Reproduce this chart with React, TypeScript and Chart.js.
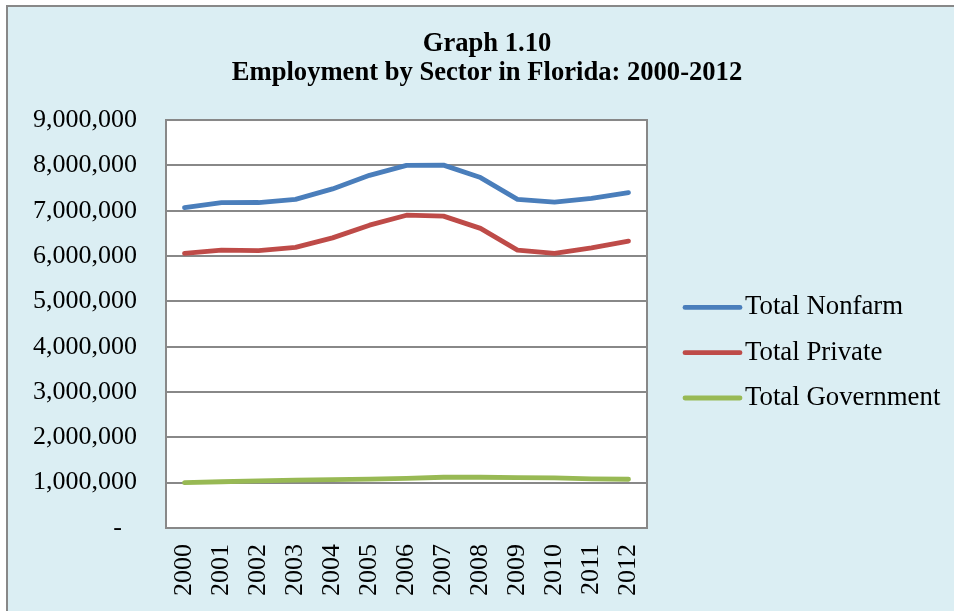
import React, { useEffect, useRef } from "react";
import { Chart, registerables } from "chart.js";

Chart.register(...registerables);

const years = ["2000", "2001", "2002", "2003", "2004", "2005", "2006", "2007", "2008", "2009", "2010", "2011", "2012"];
const totalNonfarm = [7066000, 7176000, 7180000, 7250000, 7480000, 7780000, 7998000, 8005000, 7730000, 7250000, 7190000, 7270000, 7400000];
const totalPrivate = [6060000, 6130000, 6120000, 6190000, 6400000, 6680000, 6900000, 6880000, 6610000, 6130000, 6060000, 6180000, 6330000];
const totalGovernment = [1000000, 1020000, 1040000, 1055000, 1065000, 1080000, 1095000, 1120000, 1120000, 1110000, 1105000, 1085000, 1075000];
const seriesNames = ["Total Nonfarm", "Total Private", "Total Government"];
const seriesColors = ["#4A7EBB", "#BE4B48", "#98B954"];
const titleLines = ["Graph 1.10", "Employment by Sector in Florida: 2000-2012"];

const FONT = "'Liberation Serif', 'Times New Roman', serif";

const plotBgPlugin = {
  id: "plotBg",
  beforeDraw(chart: any) {
    const { ctx, chartArea } = chart;
    ctx.save();
    ctx.fillStyle = "#FFFFFF";
    ctx.fillRect(chartArea.left, chartArea.top, chartArea.right - chartArea.left, chartArea.bottom - chartArea.top);
    ctx.restore();
  },
  beforeDatasetsDraw(chart: any) {
    const { ctx, chartArea } = chart;
    ctx.save();
    ctx.strokeStyle = "#888888";
    ctx.lineWidth = 2;
    ctx.strokeRect(chartArea.left, chartArea.top, chartArea.right - chartArea.left, chartArea.bottom - chartArea.top);
    ctx.restore();
  },
};

const sideLegendPlugin = {
  id: "sideLegend",
  afterDraw(chart: any) {
    const { ctx, chartArea } = chart;
    const mid = (chartArea.top + chartArea.bottom) / 2 + 28.7;
    const spacing = 45.3;
    const x0 = chartArea.right + 38;
    const lineLen = 55;
    ctx.save();
    chart.data.datasets.forEach((ds: any, i: number) => {
      const y = mid + (i - 1) * spacing;
      ctx.strokeStyle = ds.borderColor;
      ctx.lineWidth = 4.8;
      ctx.lineCap = "round";
      ctx.beginPath();
      ctx.moveTo(x0, y);
      ctx.lineTo(x0 + lineLen, y);
      ctx.stroke();
      ctx.fillStyle = "#000000";
      ctx.font = `26.8px ${FONT}`;
      ctx.textAlign = "left";
      ctx.textBaseline = "middle";
      ctx.fillText(ds.label, x0 + lineLen + 5, y);
    });
    ctx.restore();
  },
};

export default function App() {
  const canvasRef = useRef<HTMLCanvasElement | null>(null);

  useEffect(() => {
    if (!canvasRef.current) return;
    const series = [totalNonfarm, totalPrivate, totalGovernment];
    const chart = new Chart(canvasRef.current, {
      type: "line",
      data: {
        labels: years,
        datasets: series.map((values, i) => ({
          label: seriesNames[i],
          data: values,
          borderColor: seriesColors[i],
          backgroundColor: seriesColors[i],
          borderWidth: 4.8,
          pointRadius: 0,
          pointHoverRadius: 0,
          tension: 0,
          borderCapStyle: "round",
          borderJoinStyle: "round",
          fill: false,
          yAxisID: "y",
        })),
      },
      options: {
        animation: false,
        responsive: false,
        maintainAspectRatio: false,
        events: [],
        layout: { padding: { left: 20, right: 0, top: 0, bottom: 0 } },
        plugins: {
          legend: { display: false },
          tooltip: { enabled: false },
          title: {
            display: true,
            text: titleLines,
            color: "#000000",
            font: { family: FONT, size: 26.6, weight: "bold", lineHeight: 1.1 },
            padding: { top: 29.4, bottom: 32.1 },
          },
        },
        scales: {
          x: {
            type: "category",
            offset: true,
            grid: { display: false, drawTicks: false },
            border: { display: true, color: "#888888", width: 2 },
            ticks: {
              autoSkip: false,
              minRotation: 90,
              maxRotation: 90,
              padding: 16,
              color: "#000000",
              font: { family: FONT, size: 26 },
            },
            afterFit: (s: any) => {
              s.height = 83;
            },
          },
          y: {
            type: "linear",
            position: "left",
            min: 0,
            max: 9000000,
            grid: { color: "#888888", lineWidth: 2, drawTicks: false },
            border: { display: true, color: "#888888", width: 2 },
            ticks: {
              stepSize: 1000000,
              padding: 29,
              color: "#000000",
              font: { family: FONT, size: 26 },
              callback: (v: any) => (Number(v) === 0 ? "-  \u200A" : Number(v).toLocaleString("en-US")),
            },
            afterFit: (s: any) => {
              s.width = 146;
            },
          },
          yRight: {
            type: "linear",
            axis: "y",
            position: "right",
            display: true,
            grid: { display: false, drawOnChartArea: false, drawTicks: false },
            border: { display: false },
            ticks: { display: false },
            afterFit: (s: any) => {
              s.width = 307;
            },
          },
        },
      } as any,
      plugins: [plotBgPlugin, sideLegendPlugin],
    });
    return () => chart.destroy();
  }, []);

  return (
    <div style={{ position: "fixed", left: 0, top: 0, width: 954, height: 611, overflow: "hidden", background: "#DBEEF3" }}>
      <div style={{ position: "absolute", left: 0, top: 0, width: 954, height: 5, background: "#FFFFFF" }} />
      <div style={{ position: "absolute", left: 0, top: 0, width: 6, height: 611, background: "#FFFFFF" }} />
      <div style={{ position: "absolute", left: 6, top: 5, width: 948, height: 2, background: "#888888" }} />
      <div style={{ position: "absolute", left: 6, top: 5, width: 2, height: 606, background: "#888888" }} />
      <div style={{ position: "absolute", left: 944, top: 7, width: 10, height: 604, background: "#DBEEF3" }} />
      <canvas ref={canvasRef} width={954} height={611} style={{ position: "absolute", left: 0, top: 0, width: 954, height: 611 }} />
    </div>
  );
}
